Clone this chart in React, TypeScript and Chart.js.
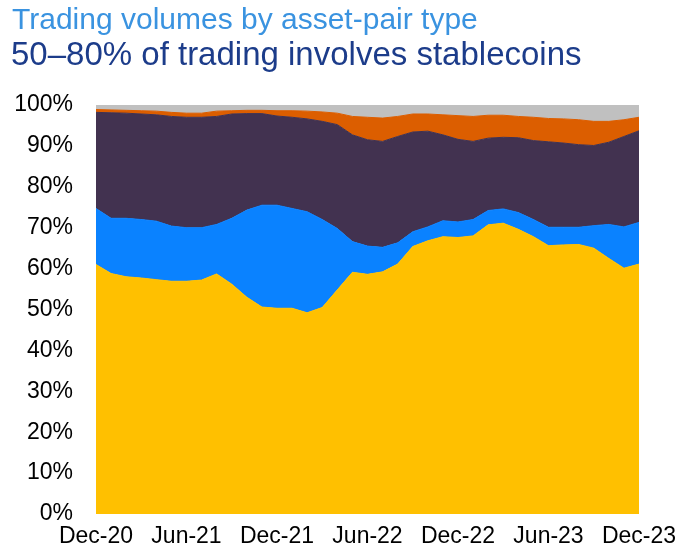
import { useEffect, useRef } from "react";
import { Chart, registerables } from "chart.js";

Chart.register(...registerables);

// Monthly observations, Dec-20 to Dec-23
const months = [
  "Dec-20",
  "Jan-21", "Feb-21", "Mar-21", "Apr-21", "May-21", "Jun-21",
  "Jul-21", "Aug-21", "Sep-21", "Oct-21", "Nov-21", "Dec-21",
  "Jan-22", "Feb-22", "Mar-22", "Apr-22", "May-22", "Jun-22",
  "Jul-22", "Aug-22", "Sep-22", "Oct-22", "Nov-22", "Dec-22",
  "Jan-23", "Feb-23", "Mar-23", "Apr-23", "May-23", "Jun-23",
  "Jul-23", "Aug-23", "Sep-23", "Oct-23", "Nov-23", "Dec-23",
];

// Shares of trading volume, per cent (stacked to 100)
const cryptoStablecoin = [
  61.0, 58.8, 58.0, 57.7, 57.3, 56.9, 56.9, 57.2, 58.7, 56.2, 53.0, 50.6, 50.3,
  50.3, 49.2, 50.5, 54.8, 59.1, 58.6, 59.2, 61.1, 65.4, 66.8, 67.8, 67.6,
  68.0, 70.7, 71.1, 69.6, 67.8, 65.6, 65.8, 65.9, 65.0, 62.5, 60.1, 61.1,
];
const stablecoinFiat = [
  13.7, 13.5, 14.3, 14.3, 14.3, 13.5, 13.1, 12.8, 12.1, 16.1, 21.3, 24.9, 25.2,
  24.4, 24.7, 21.5, 15.0, 7.5, 6.9, 6.0, 5.2, 3.6, 3.4, 3.9, 3.8,
  4.0, 3.5, 3.5, 4.1, 4.2, 4.5, 4.3, 4.2, 5.5, 8.3, 10.1, 10.2,
];
const cryptoFiat = [
  23.5, 25.8, 25.7, 25.8, 26.0, 26.8, 27.0, 27.0, 26.4, 25.5, 23.6, 22.4, 21.8,
  22.3, 22.7, 24.0, 25.4, 26.1, 26.0, 25.9, 26.0, 24.4, 23.4, 21.0, 20.2,
  19.1, 17.7, 17.5, 18.3, 19.3, 20.9, 20.6, 20.2, 19.6, 20.1, 22.1, 22.4,
];
const cryptoCrypto = [
  0.7, 0.7, 0.7, 0.8, 0.9, 1.0, 1.0, 1.0, 1.3, 0.8, 0.8, 0.8, 1.3,
  1.6, 1.9, 2.3, 2.8, 4.5, 5.5, 5.7, 4.9, 4.4, 4.2, 4.9, 5.8,
  6.1, 5.6, 5.4, 5.2, 5.7, 5.7, 5.9, 6.1, 5.9, 5.1, 4.1, 3.3,
];
const other = [
  1.1, 1.2, 1.3, 1.4, 1.5, 1.8, 2.0, 2.0, 1.5, 1.4, 1.3, 1.3, 1.4,
  1.4, 1.5, 1.7, 2.0, 2.8, 3.0, 3.2, 2.8, 2.2, 2.2, 2.4, 2.6,
  2.8, 2.5, 2.5, 2.8, 3.0, 3.3, 3.4, 3.6, 4.0, 4.0, 3.6, 3.0,
];

const seriesNames = ["Crypto–stablecoin", "Stablecoin–fiat", "Crypto–fiat", "Crypto–crypto", "Other"];
const seriesColors = ["#FFC000", "#0A82FF", "#423250", "#DC5E00", "#C0C0C0"];
const seriesValues = [cryptoStablecoin, stablecoinFiat, cryptoFiat, cryptoCrypto, other];

const yMin = 0;
const yMax = 100;
const yStep = 10;
const xLabelEvery = 6;

const FONT = "'Liberation Sans', Arial, sans-serif";

export default function App() {
  const canvasRef = useRef<HTMLCanvasElement>(null);

  useEffect(() => {
    if (!canvasRef.current) return;
    const chart = new Chart(canvasRef.current, {
      type: "line",
      data: {
        labels: months,
        datasets: seriesValues.map((values, i) => ({
          label: seriesNames[i],
          data: values,
          backgroundColor: seriesColors[i],
          borderColor: seriesColors[i],
          borderWidth: 1,
          pointRadius: 0,
          tension: 0,
          fill: i === 0 ? "origin" : "-1",
        })),
      },
      options: {
        responsive: false,
        animation: false,
        layout: { padding: { top: 105, right: 51, bottom: 0, left: 0 } },
        plugins: {
          legend: { display: false },
          tooltip: { enabled: false },
        },
        font: { family: FONT },
        scales: {
          x: {
            grid: { display: false, drawTicks: false },
            border: { display: false },
            ticks: {
              autoSkip: false,
              maxRotation: 0,
              padding: 9,
              color: "#000",
              font: { family: FONT, size: 23 },
              callback: (_v: any, i: number) => (i % xLabelEvery === 0 ? months[i] : ""),
            },
            afterFit: (scale: any) => {
              scale.height = 38;
            },
          },
          y: {
            stacked: true,
            min: yMin,
            max: yMax,
            grid: { display: false, drawTicks: false },
            border: { display: false },
            ticks: {
              stepSize: yStep,
              padding: 23,
              color: "#000",
              font: { family: FONT, size: 23 },
              callback: (v: any) => `${v}%`,
            },
            afterFit: (scale: any) => {
              scale.width = 96;
            },
          },
        },
      } as any,
    });
    return () => chart.destroy();
  }, []);

  return (
    <div
      style={{
        position: "fixed",
        left: 0,
        top: 0,
        width: 690,
        height: 552,
        background: "#fff",
        overflow: "hidden",
      }}
    >
      <canvas
        ref={canvasRef}
        width={690}
        height={552}
        style={{ position: "absolute", left: 0, top: 0, width: 690, height: 552 }}
      />
      <div
        style={{
          position: "absolute",
          left: 12,
          top: 4,
          fontFamily: FONT,
          fontSize: 30,
          lineHeight: "30px",
          color: "#3A93E0",
          whiteSpace: "nowrap",
        }}
      >
        Trading volumes by asset-pair type
      </div>
      <div
        style={{
          position: "absolute",
          left: 11,
          top: 37,
          fontFamily: FONT,
          fontSize: 33,
          lineHeight: "33px",
          color: "#1C3C8A",
          whiteSpace: "nowrap",
        }}
      >
        50–80% of trading involves stablecoins
      </div>
    </div>
  );
}
